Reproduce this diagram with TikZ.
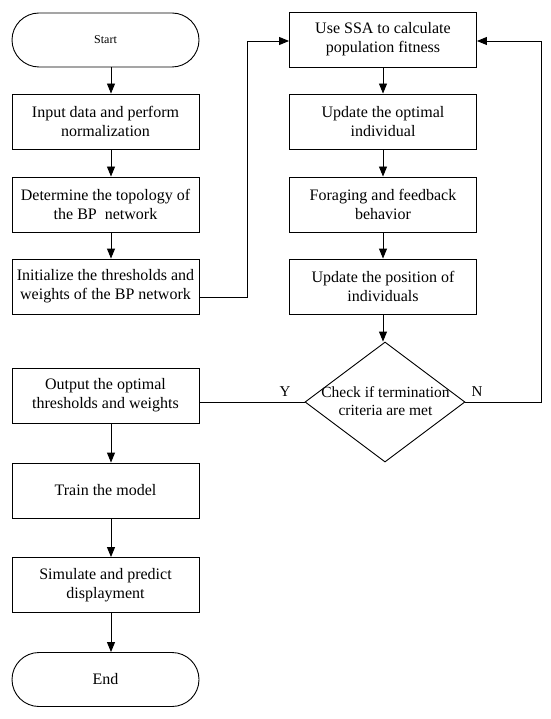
\documentclass[tikz,border=0pt]{standalone}
\usepackage{fontspec}
\setmainfont{Liberation Serif}
\usetikzlibrary{arrows.meta,shapes.geometric}
\begin{document}
\begin{tikzpicture}[x=1pt,y=-1pt,line width=0.9pt,
  txt/.style={font=\fontsize{16}{19}\selectfont,align=center},
  box/.style={draw,rectangle,minimum width=187pt,minimum height=55pt,inner sep=0pt,txt},
  term/.style={draw,rectangle,rounded corners=27pt,minimum width=187pt,minimum height=54pt,inner sep=0pt},
  dec/.style={draw,diamond,minimum width=160pt,minimum height=120pt,inner sep=0pt},
  arr/.style={-{Triangle[length=10pt,width=8pt]}},
  lbl/.style={font=\fontsize{15}{18}\selectfont}]
\useasboundingbox (0,0) rectangle (550,719);
% left column
\node[term,font=\fontsize{12}{14}\selectfont] (st) at (105.5,40) {Start};
\node[box] (b1) at (105.5,121.5) {Input data and perform\\normalization};
\node[box] (b2) at (105.5,204.5) {Determine the topology of\\the BP\ \ network};
\node[box] (b3) at (105.5,286.5) {Initialize the thresholds and\\weights of the BP network};
\node[box] (o1) at (105.5,395.5) {Output the optimal\\thresholds and weights};
\node[box] (t1) at (105.5,490.5) {Train the model};
\node[box] (p1) at (105.5,585) {Simulate and predict\\displayment};
\node[term,txt] (en) at (105.5,679.5) {End};
% right column
\node[box] (s1) at (383,39.5) {Use SSA to calculate\\population fitness};
\node[box] (s2) at (383,121.5) {Update the optimal\\individual};
\node[box] (s3) at (383,204.5) {Foraging and feedback\\behavior};
\node[box] (s4) at (383,286.5) {Update the position of\\individuals};
\node[dec] (d) at (385,402) {};
\node[txt,font=\fontsize{15.5}{18.5}\selectfont] (dt) at (385.5,401) {Check if termination\\criteria are met};
% connectors left
\draw[arr] ([xshift=5.5pt]st.south) -- ([xshift=5.5pt]b1.north);
\draw[arr] ([xshift=5.5pt]b1.south) -- ([xshift=5.5pt]b2.north);
\draw[arr] ([xshift=5.5pt]b2.south) -- ([xshift=5.5pt]b3.north);
\draw[arr] ([xshift=5.5pt]o1.south) -- ([xshift=5.5pt]t1.north);
\draw[arr] ([xshift=5.5pt]t1.south) -- ([xshift=5.5pt]p1.north);
\draw[arr] ([xshift=5.5pt]p1.south) -- ([xshift=5.5pt]en.north);
% connectors right
\draw[arr] (s1.south) -- (s2.north);
\draw[arr] (s2.south) -- (s3.north);
\draw[arr] (s3.south) -- (s4.north);
\draw[arr] (s4.south) -- (s4.south |- d.north);
% loops
\draw[arr] ([yshift=-10.5pt]b3.east) -- ++(48,0) |- ([yshift=-1.5pt]s1.west);
\draw[arr] (d.east) -- ++(76,0) |- ([yshift=-1.5pt]s1.east);
\draw (d.west) -- (o1.east |- d.west);
\node[lbl] (ly) at (285,392) {Y};
\node[lbl] (ln) at (477,392) {N};
\end{tikzpicture}
\end{document}
